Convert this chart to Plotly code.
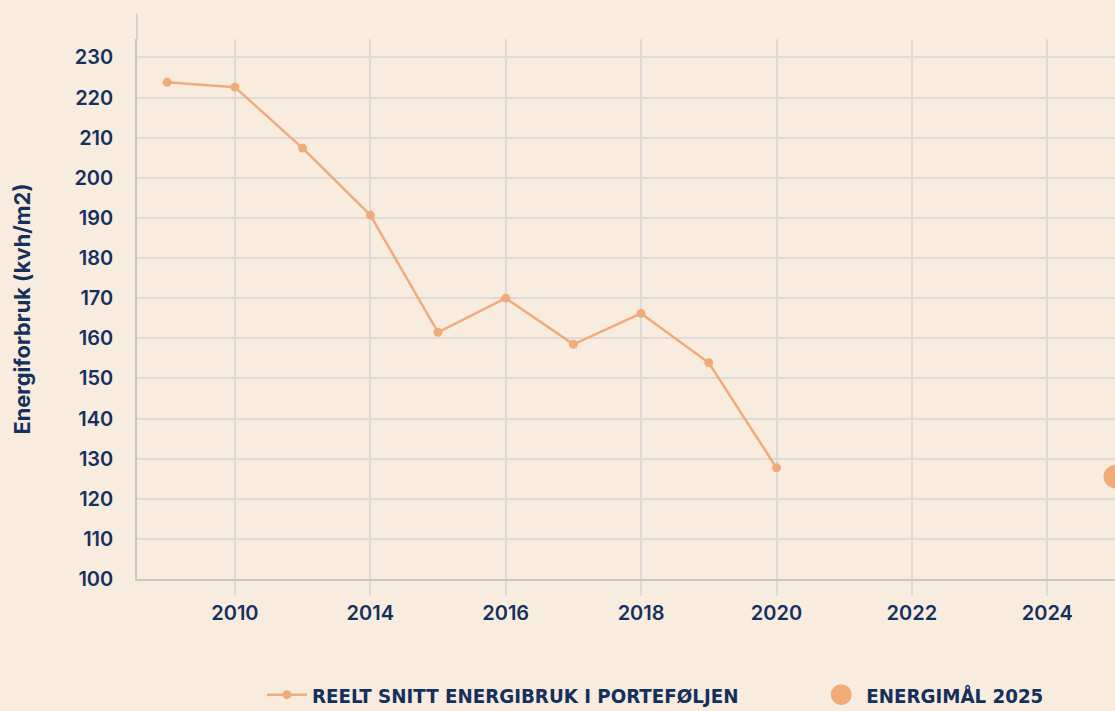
import plotly.graph_objects as go

# ---- data ----
categories = ["2008", "2010", "2012", "2014", "2015", "2016", "2017", "2018",
              "2019", "2020", "2021", "2022", "2023", "2024", "2025"]
actual_years = ["2008", "2010", "2012", "2014", "2015", "2016", "2017", "2018", "2019", "2020"]
actual_values = [223.8, 222.6, 207.4, 190.7, 161.5, 170.0, 158.5, 166.2, 153.9, 127.7]
target_years = ["2025"]
target_values = [125.5]
x_tick_labels = ["2010", "2014", "2016", "2018", "2020", "2022", "2024"]
y_tick_values = list(range(100, 231, 10))

series_names = ["REELT SNITT ENERGIBRUK I PORTEFØLJEN", "ENERGIMÅL 2025"]
y_title = "Energiforbruk (kvh/m2)"

# ---- style ----
BG = "#F8ECDF"
PEACH = "#F0AB78"
NAVY = "#16305E"
GRID = "#DEDAD6"
AXIS = "#CBC7C3"
TICK_FONT = dict(family="Inter, Lato, Roboto, sans-serif", size=20, color=NAVY, weight=600)
LEGEND_FONT = dict(family="Liberation Sans Narrow, DejaVu Sans Condensed, Roboto Condensed, Roboto, sans-serif",
                   size=20.3, color=NAVY, weight=700)

fig = go.Figure()
fig.add_trace(go.Scatter(
    x=actual_years, y=actual_values, name=series_names[0],
    mode="lines+markers",
    line=dict(color=PEACH, width=2.5),
    marker=dict(color=PEACH, size=9),
    cliponaxis=False, legend="legend",
))
fig.add_trace(go.Scatter(
    x=target_years, y=target_values, name=series_names[1],
    mode="markers",
    marker=dict(color=PEACH, size=18, line=dict(color=PEACH, width=5)),
    cliponaxis=True, legend="legend2",
))

LEG_Y = -0.2148
fig.update_layout(
    width=1115, height=711,
    paper_bgcolor=BG, plot_bgcolor=BG,
    margin=dict(l=137, r=0, t=39, b=132, autoexpand=False),
    showlegend=True,
    legend=dict(
        orientation="h", x=0.1278, xanchor="left", y=LEG_Y, yanchor="middle",
        font=LEGEND_FONT, itemwidth=40, itemsizing="trace", bgcolor="rgba(0,0,0,0)",
    ),
    legend2=dict(
        orientation="h", x=0.6945, xanchor="left", y=LEG_Y, yanchor="middle",
        font=LEGEND_FONT, itemwidth=40, itemsizing="trace", bgcolor="rgba(0,0,0,0)",
    ),
    xaxis=dict(
        type="category", categoryorder="array", categoryarray=categories,
        range=[-0.446, 14.0],
        tickmode="array", tickvals=x_tick_labels, ticktext=x_tick_labels,
        showgrid=True, gridcolor=GRID, gridwidth=1.5,
        ticks="outside", ticklen=15, tickcolor=GRID, tickwidth=1.5,
        showline=True, linecolor=AXIS, linewidth=1.5,
        tickfont=TICK_FONT, ticklabelstandoff=0,
        zeroline=False, fixedrange=True,
    ),
    yaxis=dict(
        range=[100, 234.6],
        tickmode="array", tickvals=y_tick_values,
        showgrid=True, gridcolor=GRID, gridwidth=1.5,
        showline=True, linecolor=AXIS, linewidth=1.5,
        ticks="", tickfont=TICK_FONT, ticklabelstandoff=18,
        zeroline=False, fixedrange=True,
        title=dict(text=y_title, standoff=38,
                   font=dict(family="Inter, Lato, Roboto, sans-serif", size=21.8, color=NAVY, weight=700)),
        automargin=False,
    ),
    shapes=[dict(type="line", xref="paper", yref="paper", x0=0, x1=0, y0=1, y1=1.047,
                 line=dict(color=AXIS, width=1.5), layer="below")],
)

fig.write_html(
    "out.html",
    config={"displayModeBar": False},
    post_script="document.body.style.margin='0';document.body.style.background='" + BG + "';",
)
